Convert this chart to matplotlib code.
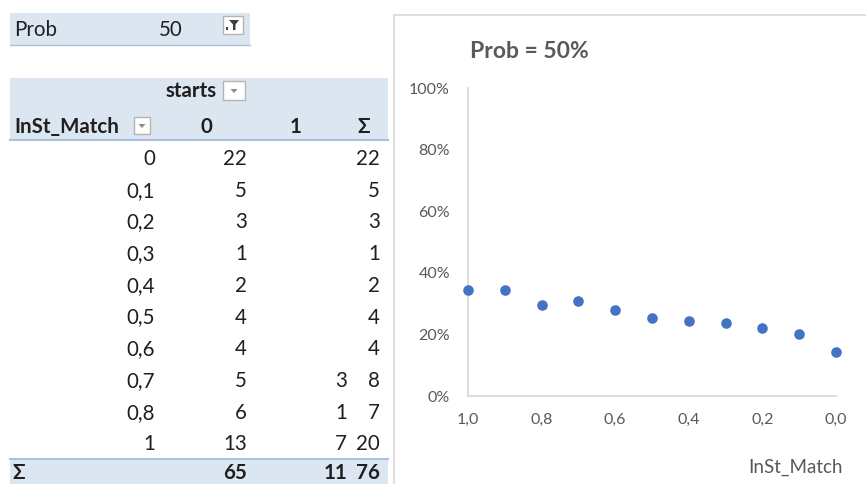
import matplotlib
matplotlib.use("Agg")
import matplotlib.pyplot as plt
from matplotlib.patches import Rectangle, Polygon
from matplotlib.ticker import FixedLocator, FuncFormatter

plt.rcParams["font.family"] = ["Lato", "DejaVu Sans"]

# ---- pivot table data ----
filter_label = "Prob"
filter_value = "50"
column_field = "starts"
row_field = "InSt_Match"
row_labels = ["0", "0,1", "0,2", "0,3", "0,4", "0,5", "0,6", "0,7", "0,8", "1"]
starts_0 = [22, 5, 3, 1, 2, 4, 4, 5, 6, 13]
starts_1 = [None, None, None, None, None, None, None, 3, 1, 7]
column_headers = ["0", "1", "Σ"]

# ---- scatter data ----
match_x = [1.0, 0.9, 0.8, 0.7, 0.6, 0.5, 0.4, 0.3, 0.2, 0.1, 0.0]
share_y = [0.345, 0.345, 0.295, 0.309, 0.279, 0.253, 0.242, 0.237, 0.221, 0.202, 0.144]
chart_title = "Prob = 50%"
x_title = "InSt_Match"
x_ticks = [1.0, 0.8, 0.6, 0.4, 0.2, 0.0]
y_ticks = [0.0, 0.2, 0.4, 0.6, 0.8, 1.0]

W, H = 866, 484
fig = plt.figure(figsize=(W / 100, H / 100), dpi=100)
fig.patch.set_facecolor("white")

# canvas axes in pixel units (origin top-left)
bg = fig.add_axes([0, 0, 1, 1])
bg.set_xlim(0, W)
bg.set_ylim(H, 0)
bg.axis("off")

band = "#dce6f1"
band_line = "#a9c2df"
ink = "#1f1f1f"
fs_table = 14.8

def dropdown(x0, y0, w, h):
    bg.add_patch(Rectangle((x0, y0), w, h, facecolor="white", edgecolor="#b4b4b4", lw=1))
    cx, cy = x0 + w / 2, y0 + h / 2
    bg.add_patch(Polygon([(cx - 3.5, cy - 1.5), (cx + 3.5, cy - 1.5), (cx, cy + 2.5)],
                         closed=True, facecolor="#8c8c8c", edgecolor="none"))

# filter row
bg.add_patch(Rectangle((10, 13), 240, 32, facecolor=band, edgecolor="none"))
bg.plot([10, 250], [45, 45], color=band_line, lw=1)
bg.text(14, 30, filter_label, fontsize=fs_table, color=ink, ha="left", va="center")
bg.text(183, 30, filter_value, fontsize=fs_table, color=ink, ha="right", va="center")
bg.add_patch(Rectangle((223, 16), 20, 18, facecolor="white", edgecolor="#b4b4b4", lw=1))
bg.add_patch(Polygon([(229, 20), (239, 20), (235.5, 24.5), (235.5, 30), (233, 30), (233, 24.5)],
                     closed=True, facecolor="#404040", edgecolor="none"))
bg.add_patch(Rectangle((226, 27), 2, 2.5, facecolor="#404040", edgecolor="none"))

# header band
bg.add_patch(Rectangle((10, 78), 378, 62, facecolor=band, edgecolor="none"))
bg.plot([10, 388], [140, 140], color=band_line, lw=1.5)
bg.text(217, 91, column_field, fontsize=fs_table, weight="bold", color=ink, ha="right", va="center")
dropdown(223, 81, 22, 19)
bg.text(14, 127, row_field, fontsize=fs_table, weight="bold", color=ink, ha="left", va="center")
dropdown(134, 117, 16, 17)
header_x = [212, 302, 370]
for hx, lab in zip(header_x, column_headers):
    bg.text(hx, 127, lab, fontsize=fs_table, weight="bold", color=ink, ha="right", va="center")

# body rows
row_y0, row_step = 159, 31.7
col_right = [155, 247, 347, 380]
tot0 = tot1 = 0
for i, lab in enumerate(row_labels):
    y = row_y0 + i * row_step
    a = starts_0[i] or 0
    b = starts_1[i] or 0
    tot0 += a
    tot1 += b
    bg.text(col_right[0], y, lab, fontsize=fs_table, color=ink, ha="right", va="center")
    if starts_0[i] is not None:
        bg.text(col_right[1], y, str(starts_0[i]), fontsize=fs_table, color=ink, ha="right", va="center")
    if starts_1[i] is not None:
        bg.text(col_right[2], y, str(starts_1[i]), fontsize=fs_table, color=ink, ha="right", va="center")
    bg.text(col_right[3], y, str(a + b), fontsize=fs_table, color=ink, ha="right", va="center")

# grand total row
bg.add_patch(Rectangle((10, 459), 378, 30, facecolor=band, edgecolor="none"))
bg.plot([10, 388], [459, 459], color=band_line, lw=1.5)
ty = 473
bg.text(12, ty, "Σ", fontsize=fs_table, weight="bold", color=ink, ha="left", va="center")
for xr, v in zip(col_right[1:], [tot0, tot1, tot0 + tot1]):
    bg.text(xr, ty, str(v), fontsize=fs_table, weight="bold", color=ink, ha="right", va="center")

# chart frame
bg.add_patch(Rectangle((394, 15), 500, 500, facecolor="white", edgecolor="#d9d9d9", lw=1.2))

grey = "#595959"
bg.text(470, 51, chart_title, fontsize=16.5, weight="bold", color=grey, ha="left", va="center")
bg.text(843, 467, x_title, fontsize=13.5, color=grey, ha="right", va="center")

# scatter axes
px_l, px_r, px_t, px_b = 468, 836, 88, 396
ax = fig.add_axes([px_l / W, 1 - px_b / H, (px_r - px_l) / W, (px_b - px_t) / H])
ax.set_facecolor("none")
ax.scatter(match_x, share_y, s=58, color="#4472c4", zorder=3, clip_on=False, linewidths=0)
ax.set_xlim(1.0, 0.0)
ax.set_ylim(0, 1)
for side in ("top", "right"):
    ax.spines[side].set_visible(False)
for side in ("left", "bottom"):
    ax.spines[side].set_color("#d9d9d9")
    ax.spines[side].set_linewidth(1.3)
ax.xaxis.set_major_locator(FixedLocator(x_ticks))
ax.yaxis.set_major_locator(FixedLocator(y_ticks))
ax.xaxis.set_major_formatter(FuncFormatter(lambda v, p: f"{v:.1f}".replace(".", ",")))
ax.yaxis.set_major_formatter(FuncFormatter(lambda v, p: f"{v * 100:.0f}%"))
ax.tick_params(axis="both", length=0, labelsize=11.5, labelcolor=grey)
ax.tick_params(axis="y", pad=13)
ax.tick_params(axis="x", pad=12)

fig.savefig("out.png", dpi=100)
